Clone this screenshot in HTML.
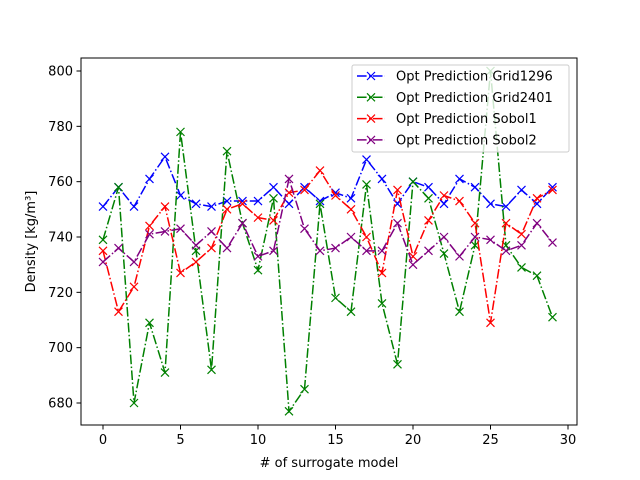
<!DOCTYPE html>
<html><head><meta charset="utf-8"><style>
body{margin:0;background:#fff;}
svg{display:block;font-family:"DejaVu Sans","Liberation Sans",sans-serif;}
</style></head><body>
<svg id="chart" width="640" height="480">
<rect width="640" height="480" fill="#fff"/>
<g id="plot"></g>
<g id="axes"></g>
</svg>
<script>
const xs = [...Array(30).keys()];
const grid1296 = [751,758,751,761,769,755,752,751,753,753,753,758,752,758,753,756,754,768,761,752,760,758,752,761,758,752,751,757,752,758];
const grid2401 = [739,758,680,709,691,778,735,692,771,745,728,754,677,685,752,718,713,759,716,694,760,754,734,713,737,800,737,729,726,711];
const sobol1 = [735,713,722,744,751,727,731,736,750,752,747,746,756,757,764,755,750,740,727,757,733,746,755,753,745,709,745,741,754,757];
const sobol2 = [731,736,731,741,742,743,737,742,736,745,733,735,761,743,735,736,740,735,735,745,730,735,740,733,740,739,735,737,745,738];
const xTicks = [0,5,10,15,20,25,30];
const yTicks = [680,700,720,740,760,780,800];
const seriesNames = ['Opt Prediction Grid1296','Opt Prediction Grid2401','Opt Prediction Sobol1','Opt Prediction Sobol2'];

const NS='http://www.w3.org/2000/svg';
const L=81,R=577,T=58,B=425;
const xS=v=>103+v*(568-103)/30;
const yS=v=>403-(v-680)*(403-71)/120;
function mk(tag,attrs,parent){const e=document.createElementNS(NS,tag);for(const k in attrs)e.setAttribute(k,attrs[k]);parent.appendChild(e);return e;}
const plot=document.getElementById('plot'), axes=document.getElementById('axes');
const colors=['#0000ff','#008000','#ff0000','#800080'];
const data=[grid1296,grid2401,sobol1,sobol2];
const keys=['grid1296','grid2401','sobol1','sobol2'];
function cross(g,x,y,c){mk('path',{d:`M${x-4},${y-4}L${x+4},${y+4}M${x-4},${y+4}L${x+4},${y-4}`,stroke:c,'stroke-width':1.2,fill:'none'},g);}
data.forEach((arr,si)=>{
  const g=mk('g',{},plot);
  
  
  const pts=arr.map((v,i)=>xS(xs[i])+','+yS(v)).join(' ');
  mk('polyline',{points:pts,fill:'none',stroke:colors[si],'stroke-width':1.5,'stroke-dasharray':'9.6,2.4,1.5,2.4'},g);
  arr.forEach((v,i)=>cross(g,xS(xs[i]),yS(v),colors[si]));
});
const frame=mk('rect',{x:L,y:T,width:R-L,height:B-T,fill:'none',stroke:'#000','stroke-width':1},axes);

xTicks.forEach(t=>{const x=xS(t);mk('line',{x1:x,y1:B,x2:x,y2:B+4.5,stroke:'#000'},axes);
  const tx=mk('text',{x:x,y:B+19,'font-size':13,'text-anchor':'middle'},axes);tx.textContent=t;
  });
yTicks.forEach(t=>{const y=yS(t);mk('line',{x1:L-4.5,y1:y,x2:L,y2:y,stroke:'#000'},axes);
  const tx=mk('text',{x:L-8,y:y+4.5,'font-size':13,'text-anchor':'end'},axes);tx.textContent=t;
  });
const xt=mk('text',{x:(L+R)/2,y:467,'font-size':13,'text-anchor':'middle'},axes);xt.textContent='# of surrogate model';

const yt=mk('text',{x:0,y:0,'font-size':13,'text-anchor':'middle',transform:`translate(35,${(T+B)/2}) rotate(-90)`},axes);yt.textContent='Density [kg/m³]';

const lg=mk('g',{},axes);

mk('rect',{x:352,y:65,width:217,height:87,rx:2,fill:'#fff','fill-opacity':0.8,stroke:'#ccc'},lg);
seriesNames.forEach((n,i)=>{const y=76+i*21.3;const e=mk('g',{},lg);
  
  mk('line',{x1:357,y1:y,x2:385,y2:y,stroke:colors[i],'stroke-width':1.5,'stroke-dasharray':'9.6,2.4,1.5,2.4'},e);
  cross(e,371,y,colors[i]);
  const t=mk('text',{x:396,y:y+4.5,'font-size':13},e);t.textContent=n;});
</script>
</body></html>
